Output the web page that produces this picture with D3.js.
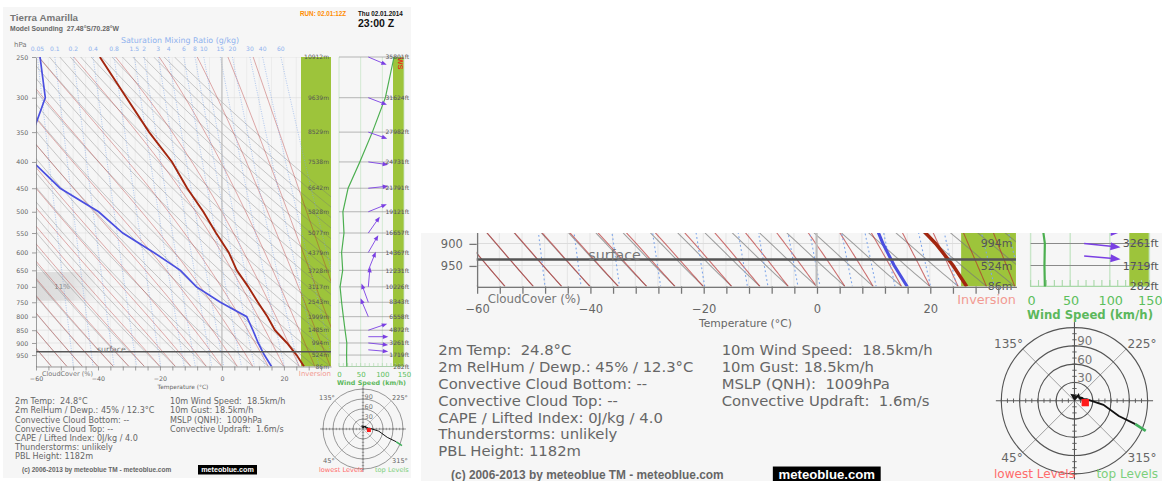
<!DOCTYPE html>
<html>
<head>
<meta charset="utf-8">
<script src="https://cdn.jsdelivr.net/npm/d3@7"></script>
<style>
  body { margin: 0; background: #fff; }
  svg { display: block; }
  text { white-space: pre; }
</style>
</head>
<body>
<svg id="chart" width="1162" height="481"></svg>
<script>
// ---- sounding data ----
var levels   = [250, 300, 350, 400, 450, 500, 550, 600, 650, 700, 750, 800, 850, 900, 950, 1000];
var heightM  = [10912, 9639, 8529, 7538, 6642, 5828, 5077, 4379, 3728, 3117, 2543, 1999, 1485, 994, 524, 86];
var tempC    = [-39.4, -30.8, -23.5, -16.1, -11.2, -6.0, -1.9, 2.2, 4.8, 8.5, 11.6, 14.7, 17.1, 21.0, 24.1, 26.5];
var dewC     = [-58.7, -57.0, -61.0, -61.0, -52.2, -39.8, -32.0, -22.0, -13.4, -8.2, -0.5, 8.0, 10.0, 11.7, 13.7, 16.0];
var windKmh  = [127, 107, 77, 48, 21, 9, 11.5, 6, 8.5, 2.5, 6, 10, 14, 18, 17.5, 18];
var windDir  = [293, 291, 289, 278, 264, 248, 215, 210, 202, 185, 160, 157, 251, 278, 279, 280];

// direction arrows are drawn on the model levels above ground
var arrowP   = [250, 300, 350, 400, 450, 500, 550, 600, 650, 700, 750, 800, 850, 875, 900, 928];
var arrowDir = [293, 291, 289, 278, 264, 248, 215, 210, 202, 185, 160, 157, 251, 270, 276, 275];

var mixRatios   = [0.05, 0.1, 0.2, 0.4, 0.8, 1.5, 2, 3, 4, 6, 8, 10, 15, 20, 30, 40, 60];
var tempLabels  = [-60, -40, -20, 0, 20];
var windLabels  = [0, 50, 100, 150];
var hodoRings   = [30, 60, 90, 120];
var hodoDirs    = [135, 225, 45, 315];

var surfaceP = 936;
var cloudTopP = 655, cloudBaseP = 745, cloudPct = 11;

var infoLeft = [
  "2m Temp:  24.8\u00b0C",
  "2m RelHum / Dewp.: 45% / 12.3\u00b0C",
  "Convective Cloud Bottom: --",
  "Convective Cloud Top: --",
  "CAPE / Lifted Index: 0J/kg / 4.0",
  "Thunderstorms: unlikely",
  "PBL Height: 1182m"
];
var infoRight = [
  "10m Wind Speed:  18.5km/h",
  "10m Gust: 18.5km/h",
  "MSLP (QNH):  1009hPa",
  "Convective Updraft:  1.6m/s"
];

// ---- scales ----
var y  = d3.scaleLog().domain([250, 1000]).range([57, 366.5]);
var x  = d3.scaleLinear().domain([-60, 35.2]).range([36, 331]);
var ws = d3.scaleLinear().domain([0, 150]).range([339, 404]);
var hr = d3.scaleLinear().domain([0, 120]).range([0, 40]);

var FONT = "DejaVu Sans, Verdana, sans-serif";
var BOLD = "Liberation Sans, Arial, sans-serif";

// ---- thermodynamics for the background lines ----
function esat(tc) { return 6.112 * Math.exp(17.67 * tc / (tc + 243.5)); }
function dewFromMix(w, p) {
  var e = w * p / (622 + w), l = Math.log(e / 6.112);
  return 243.5 * l / (17.67 - l);
}
function moistLapse(p, tk) {
  var Rd = 287.04, Lv = 2.5e6, cp = 1005.7, eps = 0.622;
  var es = esat(tk - 273.15), rs = eps * es / (p - es);
  return (Rd * tk + Lv * rs) / (p * (cp + Lv * Lv * rs * eps / (Rd * tk * tk)));
}
function moistAdiabat(t0) {
  var pts = [], tk = t0 + 273.15, dp = -5;
  for (var p = 1000; p >= 245; p += dp) {
    pts.push([p, tk - 273.15]);
    var k1 = moistLapse(p, tk);
    var k2 = moistLapse(p + dp / 2, tk + k1 * dp / 2);
    tk += k2 * dp;
  }
  return pts;
}
function dryAdiabat(t0) {
  var th = t0 + 273.15;
  return d3.range(1000, 244, -10).map(function(p) { return [p, th * Math.pow(p / 1000, 0.2857) - 273.15]; });
}

var line = d3.line().x(function(d) { return x(d[1]); }).y(function(d) { return y(d[0]); });

var svg = d3.select("#chart");
var defs = svg.append("defs");
defs.append("clipPath").attr("id", "plotClip")
  .append("rect").attr("x", 36).attr("y", 57).attr("width", 295).attr("height", 309.5);
defs.append("clipPath").attr("id", "zoomClip")
  .append("rect").attr("x", 421).attr("y", 233).attr("width", 741).attr("height", 248);
var cg = defs.append("linearGradient").attr("id", "cloudGrad");
cg.append("stop").attr("offset", "0%").attr("stop-color", "#d8d8d8").attr("stop-opacity", 0.9);
cg.append("stop").attr("offset", "60%").attr("stop-color", "#dcdcdc").attr("stop-opacity", 0.8);
cg.append("stop").attr("offset", "100%").attr("stop-color", "#e6e6e6").attr("stop-opacity", 0.3);

function txt(g, x0, y0, s, size, fill, anchor, family, weight) {
  return g.append("text").attr("x", x0).attr("y", y0).text(s)
    .attr("font-size", size).attr("fill", fill)
    .attr("text-anchor", anchor || "start")
    .attr("font-family", family || FONT)
    .attr("font-weight", weight || "normal");
}

function drawChart(g) {
  g.append("rect").attr("x", 3).attr("y", 7).attr("width", 408).attr("height", 471).attr("fill", "#f6f6f6");

  // header
  txt(g, 10, 20.5, "Tierra Amarilla", 9.8, "#777", "start", BOLD, "bold");
  txt(g, 10, 30.5, "Model Sounding  27.48\u00b0S/70.28\u00b0W", 6.8, "#666", "start", BOLD, "bold");
  txt(g, 300, 16, "RUN: 02.01:12Z", 6.3, "#ff8c00", "start", BOLD, "bold");
  txt(g, 358, 16, "Thu 02.01.2014", 6.3, "#111", "start", BOLD, "bold");
  txt(g, 358, 26.5, "23:00 Z", 10.5, "#111", "start", BOLD, "bold");
  txt(g, 180, 42.5, "Saturation Mixing Ratio (g/kg)", 7.9, "#8fb2ee", "middle");
  txt(g, 14, 46.5, "hPa", 7, "#777");

  mixRatios.forEach(function(w) {
    txt(g, x(dewFromMix(w, 250)), 50.5, String(w), 6.0, "#8fb2ee", "middle");
  });

  // plot area
  var plot = g.append("g").attr("clip-path", "url(#plotClip)");

  plot.selectAll(".vgrid").data(d3.range(-60, 36, 4)).enter().append("line")
    .attr("x1", function(d) { return x(d); }).attr("x2", function(d) { return x(d); })
    .attr("y1", 57).attr("y2", 366.5).attr("stroke", "#e6e6e6").attr("stroke-width", 0.6);
  plot.selectAll(".hgrid").data(levels).enter().append("line")
    .attr("x1", 36).attr("x2", 331)
    .attr("y1", function(d) { return y(d); }).attr("y2", function(d) { return y(d); })
    .attr("stroke", "#dcdcdc").attr("stroke-width", 0.6);

  // inversion column
  plot.append("rect").attr("x", 301).attr("y", 57).attr("width", 30).attr("height", 309.5).attr("fill", "#9dc43b");

  // cloud layer
  plot.append("rect").attr("x", 36).attr("y", y(cloudTopP)).attr("width", 59)
    .attr("height", y(cloudBaseP) - y(cloudTopP)).attr("fill", "url(#cloudGrad)");
  txt(plot, 62, (y(cloudTopP) + y(cloudBaseP)) / 2 + 2.5, cloudPct + "%", 7, "#888", "middle");

  // dry adiabats
  plot.selectAll(".dry").data(d3.range(-60, 111, 5)).enter().append("path")
    .attr("d", function(d) { return line(dryAdiabat(d)); })
    .attr("fill", "none").attr("stroke", "#777").attr("stroke-opacity", 0.7).attr("stroke-width", 0.55);
  // moist adiabats
  plot.selectAll(".moist").data(d3.range(-55, 46, 5)).enter().append("path")
    .attr("d", function(d) { return line(moistAdiabat(d)); })
    .attr("fill", "none").attr("stroke", "#b52a2a").attr("stroke-opacity", 0.65).attr("stroke-width", 0.6);
  // saturation mixing ratio
  plot.selectAll(".mix").data(mixRatios).enter().append("path")
    .attr("d", function(w) { return line(d3.range(250, 1001, 25).map(function(p) { return [p, dewFromMix(w, p)]; })); })
    .attr("fill", "none").attr("stroke", "#7ea6ea").attr("stroke-width", 0.6).attr("stroke-dasharray", "1,1.4");

  // 0 degree isotherm
  plot.append("line").attr("x1", x(0)).attr("x2", x(0)).attr("y1", 57).attr("y2", 366.5)
    .attr("stroke", "#bdbdbd").attr("stroke-width", 1.2);

  // profiles
  plot.append("path").datum(d3.zip(levels, dewC)).attr("d", line)
    .attr("fill", "none").attr("stroke", "#4b4fe0").attr("stroke-width", 1.7);
  plot.append("path").datum(d3.zip(levels, tempC)).attr("d", line)
    .attr("fill", "none").attr("stroke", "#a3260f").attr("stroke-width", 1.9);

  // surface
  g.append("line").attr("x1", 36).attr("x2", 331).attr("y1", y(surfaceP)).attr("y2", y(surfaceP))
    .attr("stroke", "#555").attr("stroke-width", 1.4);
  txt(g, 97, y(surfaceP) + 0.5, "surface", 7.8, "#777");

  // heights inside inversion column
  levels.forEach(function(p, i) {
    txt(g, 329, y(p) + 2.2, heightM[i] + "m", 6.0, "#555", "end");
  });
  txt(g, 331, 376, "Inversion", 7.0, "#f29a92", "end");

  // axes
  var yAxis = g.append("g").attr("transform", "translate(36,0)")
    .call(d3.axisLeft(y).tickValues(levels.slice(0, -1)).tickSize(4).tickSizeOuter(0).tickFormat(d3.format("d")));
  var xAxis = g.append("g").attr("transform", "translate(0,366.5)")
    .call(d3.axisBottom(x).tickValues(d3.range(-60, 36, 4)).tickSize(4).tickSizeOuter(0)
      .tickFormat(function(d) { return tempLabels.indexOf(d) >= 0 ? d3.format("d")(d) : ""; }));
  [yAxis, xAxis].forEach(function(a) {
    a.selectAll("path, line").attr("stroke", "#777").attr("stroke-width", 0.7);
    a.selectAll("text").attr("font-family", FONT).attr("font-size", 6.3).attr("fill", "#666");
  });
  xAxis.selectAll("text").attr("dy", "1.2em");
  yAxis.selectAll("text").attr("dx", "-0.1em");
  txt(g, 42, 375.5, "CloudCover (%)", 6.5, "#777");
  txt(g, 183, 388.5, "Temperature (\u00b0C)", 5.9, "#666", "middle");

  // ---- wind panel ----
  var wp = g.append("g");
  wp.append("rect").attr("x", 393).attr("y", 57).attr("width", 11).attr("height", 309.5).attr("fill", "#9dc43b");
  wp.selectAll(".wgrid").data(windLabels).enter().append("line")
    .attr("x1", function(d) { return ws(d); }).attr("x2", function(d) { return ws(d); })
    .attr("y1", 57).attr("y2", 366.5).attr("stroke", "#c9e6c9").attr("stroke-width", 0.8);
  wp.selectAll(".wlev").data(levels).enter().append("line")
    .attr("x1", 339).attr("x2", 404)
    .attr("y1", function(d) { return y(d); }).attr("y2", function(d) { return y(d); })
    .attr("stroke", "#8a8a8a").attr("stroke-width", 0.6);
  wp.selectAll(".wtick").data(d3.range(0, 151, 10)).enter().append("line")
    .attr("x1", function(d) { return ws(d); }).attr("x2", function(d) { return ws(d); })
    .attr("y1", 366.5).attr("y2", 363).attr("stroke", "#a8d8a8").attr("stroke-width", 0.6);
  wp.append("line").attr("x1", 339).attr("x2", 404).attr("y1", 366.5).attr("y2", 366.5)
    .attr("stroke", "#a8d8a8").attr("stroke-width", 0.7);
  txt(wp, 398, 57.5, "WS", 7.5, "#e8331c", "start", BOLD, "bold").attr("transform", "rotate(90,398,57.5)");

  wp.append("path").datum(d3.zip(levels, windKmh))
    .attr("d", d3.line().x(function(d) { return ws(d[1]); }).y(function(d) { return y(d[0]); }))
    .attr("fill", "none").attr("stroke", "#4caf50").attr("stroke-width", 1.2);

  // direction arrows
  arrowP.forEach(function(p, i) {
    var a = arrowDir[i] * Math.PI / 180, ux = -Math.sin(a), uy = Math.cos(a), L = 20;
    var x0 = 368.3, y0 = y(p), hx = x0 + ux * L, hy = y0 + uy * L;
    wp.append("line").attr("x1", x0).attr("y1", y0).attr("x2", hx - ux * 4).attr("y2", hy - uy * 4)
      .attr("stroke", "#7a3fe3").attr("stroke-width", 0.9);
    var bx = hx - ux * 5.5, by = hy - uy * 5.5;
    wp.append("path").attr("d", "M" + hx + "," + hy + "L" + (bx - uy * 2.2) + "," + (by + ux * 2.2) +
      "L" + (bx + uy * 2.2) + "," + (by - ux * 2.2) + "Z").attr("fill", "#7a3fe3");
  });
  levels.forEach(function(p, i) {
    txt(wp, 409, y(p) + 2.2, Math.round(heightM[i] * 3.28084) + "ft", 6.0, "#555", "end");
  });

  var wAxis = g.append("g").attr("transform", "translate(0,366.5)")
    .call(d3.axisBottom(ws).tickValues(windLabels).tickSize(0).tickFormat(d3.format("d")));
  wAxis.select(".domain").remove();
  wAxis.selectAll("text").attr("font-family", FONT).attr("font-size", 7).attr("fill", "#5cbf5c").attr("dy", "1em");
  txt(g, 371.5, 384.5, "Wind Speed (km/h)", 6.4, "#5cb85c", "middle", FONT, "bold");

  // ---- info text ----
  infoLeft.forEach(function(s, i) { txt(g, 15, 404.2 + i * 9.2, s, 8.1, "#666"); });
  infoRight.forEach(function(s, i) { txt(g, 170, 404.2 + i * 9.2, s, 8.1, "#666"); });

  txt(g, 22, 471.6, "(c) 2006-2013 by meteoblue TM - meteoblue.com", 6.5, "#666", "start", BOLD, "bold");
  g.append("rect").attr("x", 198).attr("y", 465).attr("width", 59).attr("height", 9.5).attr("fill", "#000");
  txt(g, 227.5, 471.8, "meteoblue.com", 7.2, "#fff", "middle", BOLD, "bold");

  // ---- hodograph ----
  var cx = 363, cy = 429, R = hr(120);
  var hg = g.append("g");
  [45, 135].forEach(function(a) {
    var r = a * Math.PI / 180;
    hg.append("line").attr("x1", cx - Math.cos(r) * R).attr("y1", cy - Math.sin(r) * R)
      .attr("x2", cx + Math.cos(r) * R).attr("y2", cy + Math.sin(r) * R)
      .attr("stroke", "#999").attr("stroke-width", 0.5);
  });
  hg.selectAll(".ring").data(hodoRings).enter().append("circle")
    .attr("cx", cx).attr("cy", cy).attr("r", function(d) { return hr(d); })
    .attr("fill", "none").attr("stroke", "#555").attr("stroke-width", 0.6);
  hg.append("line").attr("x1", cx - R - 3).attr("x2", cx + R + 3).attr("y1", cy).attr("y2", cy).attr("stroke", "#555").attr("stroke-width", 0.6);
  hg.append("line").attr("x1", cx).attr("x2", cx).attr("y1", cy - R - 3).attr("y2", cy + R + 3).attr("stroke", "#555").attr("stroke-width", 0.6);
  d3.range(10, 121, 10).forEach(function(v) {
    var r = hr(v);
    [[r, 0], [-r, 0]].forEach(function(o) {
      hg.append("line").attr("x1", cx + o[0]).attr("x2", cx + o[0]).attr("y1", cy - 1.2).attr("y2", cy + 1.2).attr("stroke", "#555").attr("stroke-width", 0.5);
    });
    [[0, r], [0, -r]].forEach(function(o) {
      hg.append("line").attr("y1", cy + o[1]).attr("y2", cy + o[1]).attr("x1", cx - 1.2).attr("x2", cx + 1.2).attr("stroke", "#555").attr("stroke-width", 0.5);
    });
  });
  hodoRings.slice(0, 3).forEach(function(v) { txt(hg, 364.5, cy - hr(v) - 0.3, String(v), 6.5, "#777"); });
  txt(hg, 319, 400, hodoDirs[0] + "\u00b0", 6.6, "#666");
  txt(hg, 392, 400, hodoDirs[1] + "\u00b0", 6.6, "#666");
  txt(hg, 323, 462.5, hodoDirs[2] + "\u00b0", 6.6, "#666");
  txt(hg, 392, 462.5, hodoDirs[3] + "\u00b0", 6.6, "#666");
  txt(hg, 319, 471.5, "lowest Levels", 6.6, "#ff6b6b");
  txt(hg, 375, 471.5, "top Levels", 6.6, "#7ccf7c");

  var hpts = levels.map(function(p, i) {
    var a = windDir[i] * Math.PI / 180, r = hr(windKmh[i]);
    return [cx - Math.sin(a) * r, cy + Math.cos(a) * r];
  }).reverse();
  hg.append("path").attr("d", d3.line()(hpts.slice(0, hpts.length - 1)))
    .attr("fill", "none").attr("stroke", "#111").attr("stroke-width", 1.0);
  hg.append("path").attr("d", d3.line()(hpts.slice(hpts.length - 2)))
    .attr("fill", "none").attr("stroke", "#3fae5a").attr("stroke-width", 1.5);
  hg.append("rect").attr("x", hpts[0][0] - 2).attr("y", hpts[0][1] - 2).attr("width", 4).attr("height", 4).attr("fill", "#ff1a1a");
}

svg.append("rect").attr("width", 1162).attr("height", 481).attr("fill", "#fff").lower();
drawChart(svg.append("g"));

// magnified copy of the lower part, as in the right half of the picture
var zoomed = svg.append("g").attr("clip-path", "url(#zoomClip)")
  .append("g").attr("transform", "translate(410.9,-383.5) scale(1.828)");
drawChart(zoomed);
// texts of the copy that fall wholly above the visible window are not needed
zoomed.selectAll("text").each(function() {
  var r = this.getBoundingClientRect();
  if (r.bottom < 233) d3.select(this).remove();
});
</script>
</body>
</html>
